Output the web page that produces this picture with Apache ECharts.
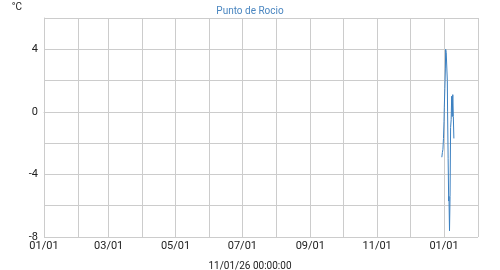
<!DOCTYPE html>
<html><head><meta charset="utf-8">
<script src="https://cdn.jsdelivr.net/npm/echarts@6/dist/echarts.min.js"></script>
<style>html,body{margin:0;padding:0;background:#fff}#c{width:500px;height:270px}</style>
</head><body><div id="c"></div>
<script>
const chartTitle = 'Punto de Rocio';
const unitLabel = '°C';
const footerLabel = '11/01/26 00:00:00';
const times = [
 '2025-12-30T00:00','2025-12-30T12:00','2025-12-31T00:00','2025-12-31T12:00',
 '2026-01-01T00:00','2026-01-01T06:00','2026-01-01T18:00','2026-01-02T06:00',
 '2026-01-02T12:00','2026-01-03T00:00','2026-01-03T12:00','2026-01-04T00:00',
 '2026-01-04T06:00','2026-01-04T18:00','2026-01-05T06:00','2026-01-05T12:00',
 '2026-01-06T00:00','2026-01-06T12:00','2026-01-07T00:00','2026-01-07T12:00',
 '2026-01-08T00:00','2026-01-08T12:00','2026-01-09T00:00','2026-01-09T12:00',
 '2026-01-10T00:00'
];
const dewPoint = [
 -2.9,-2.6,-2.4,-1.7,
 -0.6,0.3,1.5,2.8,
 4.0,3.8,3.9,2.0,
 0.0,-3.0,-5.7,-5.4,
 -7.6,-5.4,-1.0,-0.5,
 1.0,-0.3,1.1,-0.3,
 -1.7
];
const xStart = '2025-01-01T00:00';
const xEnd = '2026-02-01T00:00';

function parseLocal(s){
  const [d,t] = s.split('T'); const [y,m,dd] = d.split('-').map(Number); const [h,mi] = t.split(':').map(Number);
  return new Date(y, m-1, dd, h, mi).getTime();
}
const seriesData = times.map((t,i)=>[parseLocal(t), dewPoint[i]]);
const pad = n => (n<10?'0':'')+n;

const chart = echarts.init(document.getElementById('c'), null, {renderer:'canvas'});
chart.setOption({
  animation:false,
  title:[
    {text:chartTitle, left:'center', top:1, textStyle:{fontSize:10, fontWeight:'normal', color:'#4a86c0', fontFamily:'Roboto'}},
    {text:footerLabel, left:'center', top:256, textStyle:{fontSize:10, fontWeight:'normal', color:'#222', fontFamily:'Roboto'}}
  ],
  grid:{left:44, right:22, top:18, bottom:33, containLabel:false},
  xAxis:{
    type:'time', min:parseLocal(xStart), max:parseLocal(xEnd),
    splitNumber:13, minInterval:28*86400000, maxInterval:31*86400000,
    axisLine:{show:true, lineStyle:{color:'#ccc'}},
    axisTick:{show:false},
    splitLine:{show:true, lineStyle:{color:'#ccc', width:1}},
    axisLabel:{
      color:'#222', fontSize:11, fontFamily:'Roboto', margin:4, hideOverlap:false,
      formatter:function(v){ const d=new Date(v); if(d.getMonth()%2!==0) return ''; return pad(d.getMonth()+1)+'/'+pad(d.getDate()); }
    }
  },
  yAxis:{
    type:'value', min:-8, max:6, interval:2,
    name:unitLabel, nameLocation:'end', nameGap:6,
    nameTextStyle:{color:'#222', fontSize:10, fontFamily:'Roboto', align:'right', padding:[0,22,0,0]},
    axisLine:{show:true, lineStyle:{color:'#ccc'}},
    axisTick:{show:false},
    splitLine:{show:true, lineStyle:{color:'#ccc', width:1}},
    axisLabel:{color:'#222', fontSize:11, fontFamily:'Roboto', margin:6,
      formatter:function(v){ return v%4===0 ? String(v) : ''; }}
  },
  series:[{type:'line', data:seriesData, showSymbol:false, lineStyle:{color:'#3a7fc0', width:1}, itemStyle:{color:'#3a7fc0'}}]
});
</script></body></html>
